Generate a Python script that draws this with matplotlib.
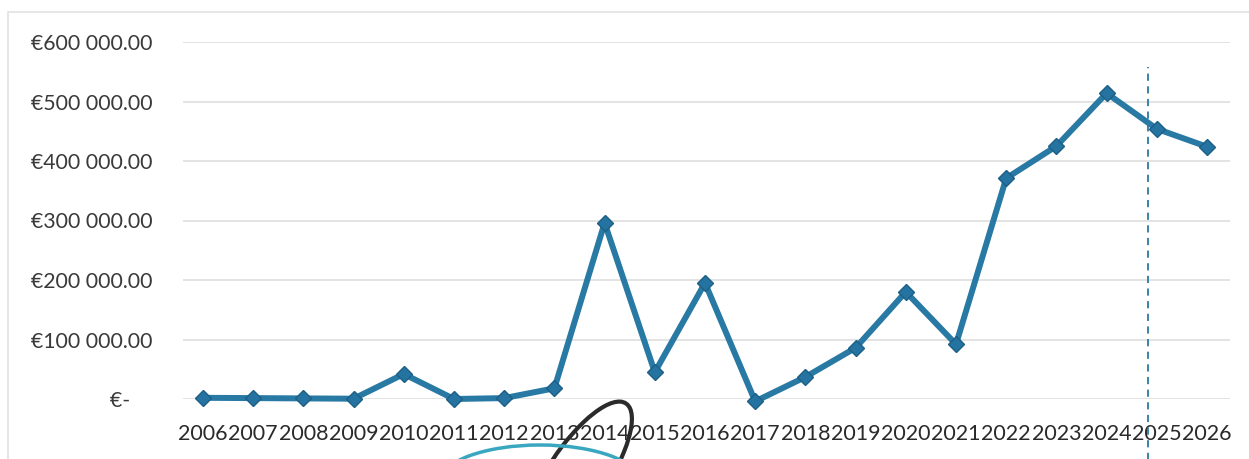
import numpy as np
import matplotlib.pyplot as plt
from matplotlib.patches import Rectangle, Ellipse, Arc

years = list(range(2006, 2027))
values = [2000, 1500, 1000, 500, 42000, 0, 1500, 18000, 296000, 45000, 195000,
          -4000, 37000, 86000, 180000, 92000, 371000, 425000, 514000, 454000, 424000]
yticks = [0, 100000, 200000, 300000, 400000, 500000, 600000]
ylabels = ["€-    ", "€100 000.00", "€200 000.00", "€300 000.00",
           "€400 000.00", "€500 000.00", "€600 000.00"]
forecast_x = 2024.82

W, H = 1249, 459
plt.rcParams['font.family'] = ['Lato', 'DejaVu Sans']
fig = plt.figure(figsize=(W / 100, H / 100), dpi=100)
fig.patch.set_facecolor('white')

# chart-area frame
fig.add_artist(Rectangle((8 / W, -0.1), 1.2, (H - 12) / H + 0.1,
                         transform=fig.transFigure, fill=False,
                         edgecolor='#e2e2e2', linewidth=1.2))

ax = fig.add_axes([183 / W, (H - 399) / H, (1230 - 183) / W, 357 / H])
ax.set_xlim(2006 - 20 / 50.2, 2026 + 23 / 50.2)
ax.set_ylim(0, 600000)
for s in ax.spines.values():
    s.set_visible(False)

ax.set_yticks(yticks)
ax.set_yticklabels(ylabels, fontsize=15.3, color='#3a3a3a')
ax.set_xticks(years)
ax.set_xticklabels([str(y) for y in years], fontsize=15.5, color='#2a2a2a')
ax.tick_params(axis='y', length=0, pad=22)
ax.tick_params(axis='x', length=0, pad=18)
ax.grid(axis='y', color='#e0e0e0', linewidth=1.3)
ax.set_axisbelow(True)

ax.plot(years, values, color='#2879a3', linewidth=4.3, marker='D',
        markersize=8.5, markerfacecolor='#2473a0', markeredgecolor='#1d5f86',
        clip_on=False, zorder=3)

ax.axvline(forecast_x, ymin=-0.17, ymax=0.93, color='#2a7ba3', linewidth=1.3,
           linestyle=(0, (4, 3)), clip_on=False)

# pen marks over the labels
fig.add_artist(Arc((578 / W, (H - 475) / H), 68 / W, 150 / H, angle=-12,
                   theta1=-15, theta2=195, transform=fig.transFigure,
                   color='#2b2b2b', linewidth=3))
fig.add_artist(Ellipse((540 / W, (H - 482) / H), 200 / W, 74 / H,
                       transform=fig.transFigure, fill=False,
                       edgecolor='#3aa7c0', linewidth=2.5))

fig.savefig('out.png', dpi=100)
